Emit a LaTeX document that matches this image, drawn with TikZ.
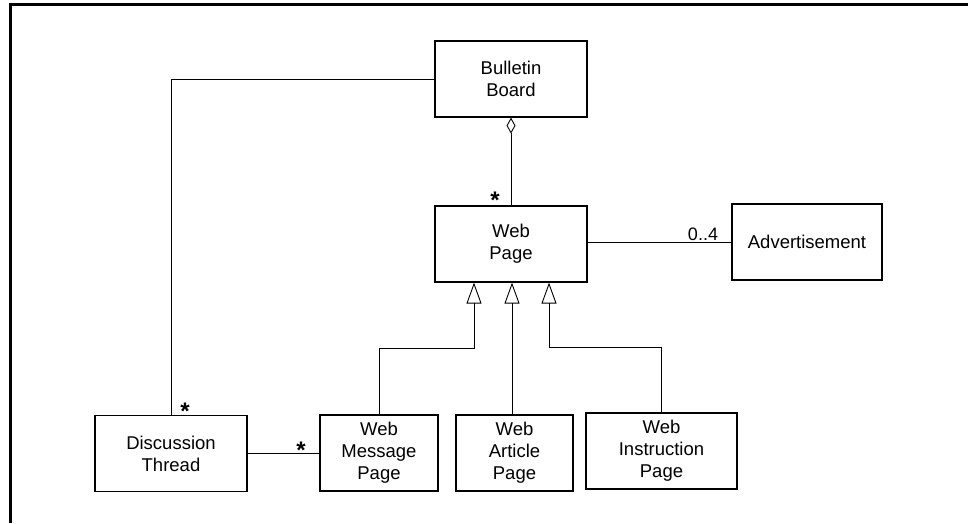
\documentclass[tikz,border=0pt]{standalone}
\usepackage{fontspec}
\setmainfont{Liberation Sans}
\usetikzlibrary{arrows.meta}
\begin{document}
\begin{tikzpicture}[x=1pt,y=-1pt,
  cls/.style={draw, line width=1.2pt, align=center, font=\fontsize{18.5}{22}\selectfont, inner sep=0pt, minimum height=76pt},
  conn/.style={line width=0.9pt},
  inh/.style={conn, -{Triangle[open, length=21pt, width=15pt, line width=0.9pt]}},
  agg/.style={conn, {Diamond[open, length=16pt, width=9pt, line width=0.9pt]}-},
  mult/.style={font=\fontsize{24}{24}\selectfont\bfseries, inner sep=0pt},
  lbl/.style={font=\fontsize{18}{22}\selectfont, inner sep=0pt},
  frame/.style={line width=3pt}]
\useasboundingbox (0,0) rectangle (968,523);
\coordinate (fr1) at (968,4);
\coordinate (fr2) at (10.5,4);
\coordinate (fr3) at (10.5,523);
\draw[frame] (fr1) -- (fr2) -- (fr3);

\node[cls, minimum width=152pt] (bb) at (511,79) {Bulletin\\Board};
\node[cls, minimum width=152pt] (wp) at (511,244) {Web\\Page};
\node[cls, minimum width=150pt] (adv) at (807,242) {Advertisement};
\node[cls, minimum width=152pt] (dt) at (171,453.5) {Discussion\\Thread};
\node[cls, minimum width=118pt] (wmp) at (379,453) {Web\\Message\\Page};
\node[cls, minimum width=117pt] (wap) at (514.5,453) {Web\\Article\\Page};
\node[cls, minimum width=151pt] (wip) at (661.5,451) {Web\\Instruction\\Page};

\draw[agg] (bb.south) -- (wp.north);
\draw[conn] (adv.west -| wp.east) -- (adv.west);
\draw[conn] (bb.west) -| (dt.north);
\draw[conn] (dt.east) -- (dt.east -| wmp.west);
\draw[inh] (wmp.north) -- ++(0,-66) -| ([xshift=-37pt]wp.south);
\draw[inh] ([xshift=-2.5pt]wap.north) -- ([xshift=1pt]wp.south);
\draw[inh] (wip.north) -- ++(0,-65) -| ([xshift=38pt]wp.south);

\node[mult] (m1) at (495,200) {*};
\node[mult] (m2) at (185,411) {*};
\node[mult] (m3) at (301,450) {*};
\node[lbl] (m4) at (703,234) {0..4};
\end{tikzpicture}
\end{document}
